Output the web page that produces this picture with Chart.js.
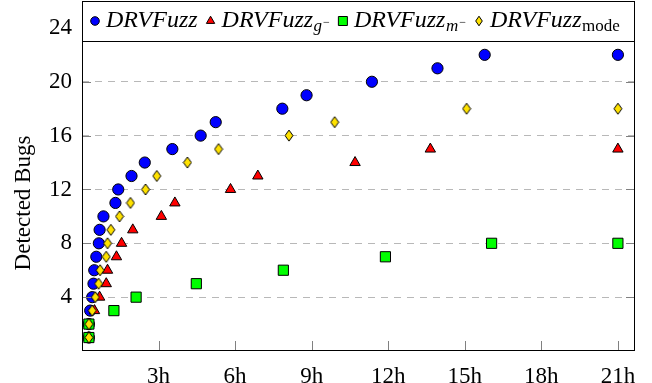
<!DOCTYPE html>
<html>
<head>
<meta charset="utf-8">
<script src="https://cdn.jsdelivr.net/npm/chart.js@4.4.0/dist/chart.umd.min.js"></script>
<style>
  html, body { margin: 0; padding: 0; background: #fff; }
  #caixa { width: 652px; height: 383px; }
</style>
</head>
<body>
<div id="caixa"><canvas id="grafico"></canvas></div>
<script>
const xTicks = [3, 6, 9, 12, 15, 18, 21]
const yTicks = [4, 8, 12, 16, 20, 24]

// horas em que cada bug foi encontrado (último ponto = fim da execução)
const tempoFull = [0.27, 0.27, 0.32, 0.40, 0.45, 0.48, 0.56, 0.66, 0.69, 0.84, 1.31, 1.42, 1.94, 2.46, 3.54, 4.65, 5.24, 7.85, 8.80, 11.36, 13.93, 15.78, 21.0]
const bugsFull = [1, 2, 3, 4, 5, 6, 7, 8, 9, 10, 11, 12, 13, 14, 15, 16, 17, 18, 19, 20, 21, 22, 22]

const tempoG = [0.27, 0.27, 0.49, 0.69, 0.95, 1.00, 1.35, 1.55, 1.99, 3.11, 3.64, 5.82, 6.89, 10.70, 13.65, 21.0]
const bugsG = [1, 2, 3, 4, 5, 6, 7, 8, 9, 10, 11, 12, 13, 14, 15, 15]

const tempoM = [0.27, 0.27, 1.25, 2.12, 4.48, 7.89, 11.89, 16.05, 21.0]
const bugsM = [1, 2, 3, 4, 5, 6, 7, 8, 8]

const tempoMode = [0.27, 0.27, 0.40, 0.52, 0.65, 0.71, 0.95, 1.00, 1.13, 1.47, 1.90, 2.49, 2.93, 4.13, 5.35, 8.11, 9.90, 15.07, 21.0]
const bugsMode = [1, 2, 3, 4, 5, 6, 7, 8, 9, 10, 11, 12, 13, 14, 15, 16, 17, 18, 18]

const nomeBase = 'DRVFuzz'
const nomeSub = ['', 'g', 'm', 'mode']
const subItalico = [false, true, true, false]
const nomeSup = ['', '\u2212', '\u2212', '']
const cores = ['#0000ff', '#ff0000', '#00ff00', '#ffe200']

const serif = '"Liberation Serif", "Times New Roman", serif'

function pontos(tempos, bugs) {
  return tempos.map(function(t, i) { return { x: t, y: bugs[i] } })
}

function diamante(w, h, cor) {
  const c = document.createElement('canvas')
  c.width = w + 2
  c.height = h + 2
  const g = c.getContext('2d')
  g.beginPath()
  g.moveTo(c.width / 2, 1)
  g.lineTo(c.width - 1, c.height / 2)
  g.lineTo(c.width / 2, c.height - 1)
  g.lineTo(1, c.height / 2)
  g.closePath()
  g.fillStyle = cor
  g.fill()
  g.lineWidth = 1
  g.strokeStyle = '#000'
  g.stroke()
  return c
}

function desenharMarcador(ctx, i, x, y) {
  ctx.save()
  ctx.fillStyle = cores[i]
  ctx.strokeStyle = '#000'
  ctx.lineWidth = 1
  ctx.beginPath()
  if (i === 0) {
    ctx.arc(x, y, 4.3, 0, Math.PI * 2)
  } else if (i === 1) {
    const r = 4.8
    ctx.moveTo(x, y - r)
    ctx.lineTo(x + r * 0.866, y + r / 2)
    ctx.lineTo(x - r * 0.866, y + r / 2)
    ctx.closePath()
  } else if (i === 2) {
    ctx.rect(x - 4.5, y - 4.5, 9, 9)
  } else {
    ctx.moveTo(x, y - 4.8)
    ctx.lineTo(x + 3.3, y)
    ctx.lineTo(x, y + 4.8)
    ctx.lineTo(x - 3.3, y)
    ctx.closePath()
  }
  ctx.fill()
  ctx.stroke()
  ctx.restore()
}

const molduraPlugin = {
  id: 'moldura',
  afterDatasetsDraw(chart) {
    const ctx = chart.ctx
    const a = chart.chartArea
    const w = a.right - a.left
    ctx.save()

    // ticks para dentro
    ctx.strokeStyle = '#808080'
    ctx.lineWidth = 1
    ctx.beginPath()
    yTicks.forEach(function(v) {
      const py = Math.round(chart.scales.y.getPixelForValue(v)) + 0.5
      ctx.moveTo(a.left, py); ctx.lineTo(a.left + 9, py)
      ctx.moveTo(a.right - 9, py); ctx.lineTo(a.right, py)
    })
    xTicks.forEach(function(v) {
      const px = Math.round(chart.scales.x.getPixelForValue(v)) + 0.5
      ctx.moveTo(px, a.bottom); ctx.lineTo(px, a.bottom - 10)
    })
    ctx.stroke()

    ctx.strokeStyle = '#000'
    ctx.strokeRect(a.left + 0.5, a.top + 0.5, w - 1, a.bottom - a.top - 1)

    // legenda
    ctx.fillStyle = '#fff'
    ctx.fillRect(a.left + 0.5, a.top + 0.5, w - 1, 40)
    ctx.strokeRect(a.left + 0.5, a.top + 0.5, w - 1, 40)

    let x = a.left + 13
    const yMarca = a.top + 20
    const yBase = a.top + 26
    for (let i = 0; i < 4; i++) {
      desenharMarcador(ctx, i, x, yMarca)
      x += 11
      ctx.fillStyle = '#000'
      ctx.textBaseline = 'alphabetic'
      ctx.textAlign = 'left'
      ctx.font = 'italic 24px ' + serif
      ctx.fillText(nomeBase, x, yBase)
      x += ctx.measureText(nomeBase).width
      if (nomeSub[i]) {
        ctx.font = (subItalico[i] ? 'italic ' : '') + '17px ' + serif
        ctx.fillText(nomeSub[i], x + 0.5, yBase + 4)
        x += ctx.measureText(nomeSub[i]).width + 0.5
      }
      if (nomeSup[i]) {
        ctx.font = '12px ' + serif
        ctx.fillText(nomeSup[i], x + 1, yBase - 1)
        x += ctx.measureText(nomeSup[i]).width + 1
      }
      x += 13
    }
    ctx.restore()
  },
  afterDraw(chart) {
    const ctx = chart.ctx
    ctx.save()
    ctx.translate(24, 203)
    ctx.rotate(-Math.PI / 2)
    ctx.fillStyle = '#000'
    ctx.font = '23px ' + serif
    ctx.textAlign = 'center'
    ctx.textBaseline = 'middle'
    ctx.fillText('Detected Bugs', 0, 0)
    ctx.restore()
  }
}

const series = [
  { label: 'DRVFuzz', data: pontos(tempoFull, bugsFull), estilo: 'circle', raio: 5.6, ordem: 4 },
  { label: 'DRVFuzz_g-', data: pontos(tempoG, bugsG), estilo: 'triangle', raio: 6, ordem: 3 },
  { label: 'DRVFuzz_m-', data: pontos(tempoM, bugsM), estilo: 'rect', raio: 7.2, ordem: 2 },
  { label: 'DRVFuzz_mode', data: pontos(tempoMode, bugsMode), estilo: diamante(8, 11, cores[3]), raio: 6, ordem: 1 }
]

new Chart(document.getElementById('grafico'), {
  type: 'scatter',
  data: {
    datasets: series.map(function(s, i) {
      return {
        label: s.label,
        data: s.data,
        order: s.ordem,
        pointStyle: s.estilo,
        pointRadius: s.raio,
        pointBackgroundColor: cores[i],
        pointBorderColor: '#000',
        pointBorderWidth: 1,
        showLine: false
      }
    })
  },
  options: {
    responsive: true,
    maintainAspectRatio: false,
    animation: false,
    devicePixelRatio: 1,
    events: [],
    layout: { autoPadding: false, padding: { top: 1, right: 17, left: 0, bottom: 0 } },
    plugins: { legend: { display: false }, tooltip: { enabled: false } },
    scales: {
      x: {
        type: 'linear',
        min: 0,
        max: 21.67,
        grid: { display: false },
        border: { display: false },
        afterBuildTicks: function(s) { s.ticks = xTicks.map(function(v) { return { value: v } }) },
        afterFit: function(s) {
          s.height = 32
          s.paddingLeft = 0
          s.paddingRight = 0
        },
        ticks: {
          color: '#000',
          font: { family: serif, size: 23, lineHeight: 1.2 },
          padding: 4,
          maxRotation: 0,
          autoSkip: false,
          callback: function(v) { return v + 'h' }
        }
      },
      y: {
        min: 0,
        max: 26,
        grid: { color: '#b8b8b8', lineWidth: 1, drawTicks: false },
        border: { display: false, dash: [7, 6] },
        afterBuildTicks: function(s) { s.ticks = yTicks.map(function(v) { return { value: v } }) },
        afterFit: function(s) {
          s.width = 82
          s.paddingTop = 0
          s.paddingBottom = 0
        },
        ticks: {
          color: '#000',
          font: { family: serif, size: 23 },
          padding: 10
        }
      }
    }
  },
  plugins: [molduraPlugin]
})
</script>
</body>
</html>
